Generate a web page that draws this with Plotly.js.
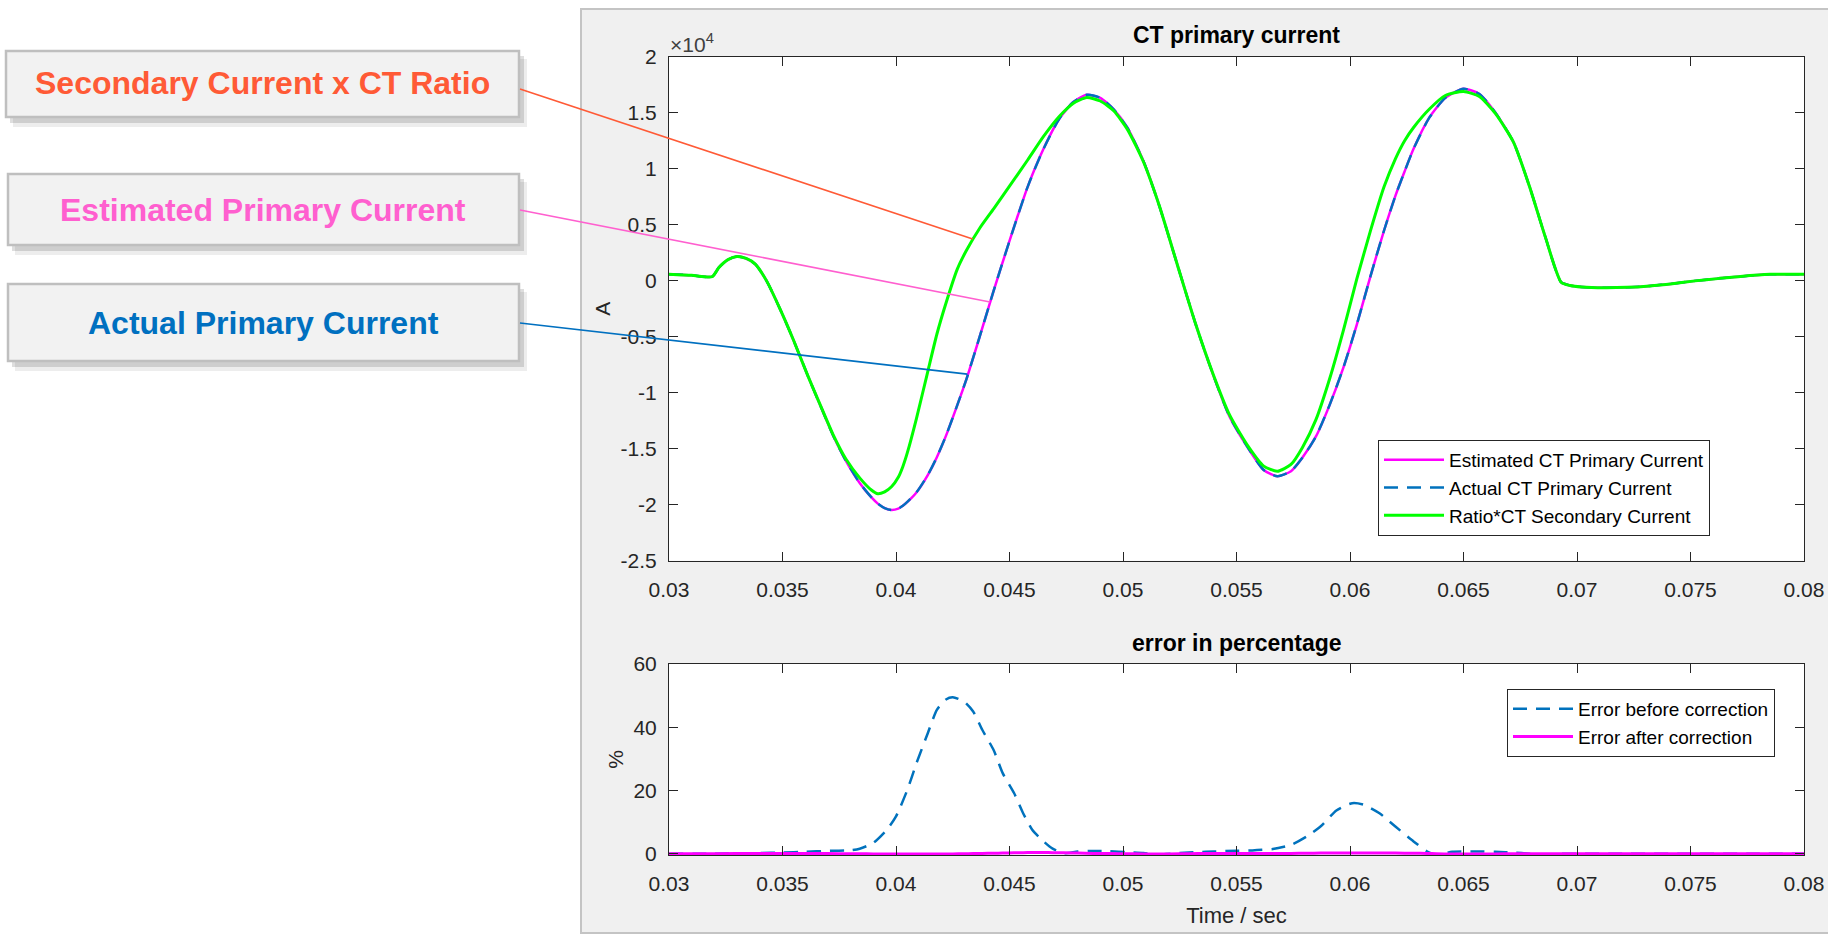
<!DOCTYPE html>
<html>
<head>
<meta charset="utf-8">
<script src="https://cdn.plot.ly/plotly-3.0.1.min.js"></script>
<style>
  html, body { margin: 0; padding: 0; background: #ffffff; }
  #chart { width: 1828px; height: 934px; }
</style>
</head>
<body>
<div id="chart"></div>
<script>
// ---------------- DATA ----------------
const tTop = [0.0300,0.0310,0.0319,0.0322,0.0326,0.0330,0.0334,0.0338,0.0343,0.0349,
              0.0355,0.0361,0.0367,0.03725,0.0378,0.0384,0.0389,0.0392,0.0395,0.0398,
              0.0401,0.0403,0.0405,0.0409,0.0414,0.0418,0.0422,0.0427,0.0431,0.0437,
              0.0443,0.0450,0.0458,0.0465,0.0472,0.0478,0.0484,0.0490,0.0496,0.0502,
              0.0509,0.0516,0.0524,0.0532,0.0540,0.0547,0.0555,0.0562,0.0568,0.0574,
              0.0579,0.0585,0.0591,0.0597,0.0603,0.0609,0.0615,0.0620,0.0624,0.0628,
              0.0635,0.0642,0.0650,0.0657,0.0664,0.0672,0.0679,0.0686,0.0693,0.0697,
              0.0702,0.0712,0.0722,0.0732,0.0742,0.0752,0.0762,0.0772,0.0785,0.0800];

// Ratio * CT secondary current (A)
const ratioSecondary = [600,500,370,1200,1900,2180,2000,1500,0,-2550,
                        -5370,-8400,-11260,-13830,-15940,-17600,-18660,-19020,-18850,-18400,
                        -17550,-16600,-15350,-12300,-8100,-4770,-2000,1050,2710,4750,
                        6440,8460,10800,12900,14700,15850,16380,16070,15170,13510,
                        10640,6710,1400,-3860,-8500,-12000,-14740,-16550,-17010,-16400,
                        -14900,-12400,-8770,-4490,170,4460,8400,10900,12500,13700,
                        15350,16560,16920,16470,14960,12400,8480,3950,-120,-420,
                        -550,-620,-580,-450,-250,0,200,400,580,580];

// Actual CT primary current (A)
const actualPrimary = [600,500,370,1200,1900,2180,2000,1500,0,-2550,
                       -5370,-8400,-11300,-13900,-16100,-18050,-19300,-19900,-20300,-20470,
                       -20350,-20100,-19750,-18900,-17350,-15750,-13850,-11100,-8800,-4900,
                       -900,3570,8400,11800,14500,15950,16620,16350,15300,13660,
                       10700,6700,1400,-3860,-8550,-12150,-14900,-16900,-17460,-17000,
                       -15800,-13900,-11100,-7800,-3900,400,4500,7600,9750,11800,
                       14600,16350,17160,16700,15050,12400,8480,3950,-120,-420,
                       -550,-620,-580,-450,-250,0,200,400,580,580];

// Estimated CT primary current (A)
const estimatedPrimary = [600,500,370,1200,1900,2180,2000,1500,0,-2550,
                          -5370,-8400,-11300,-13900,-16100,-18050,-19300,-19900,-20300,-20470,
                          -20350,-20100,-19750,-18900,-17350,-15750,-13850,-11100,-8800,-4900,
                          -900,3570,8400,11800,14500,15950,16620,16350,15300,13660,
                          10700,6700,1400,-3860,-8550,-12150,-14900,-16900,-17460,-17000,
                          -15800,-13900,-11100,-7800,-3900,400,4500,7600,9750,11800,
                          14600,16350,17160,16700,15050,12400,8480,3950,-120,-420,
                          -550,-620,-580,-450,-250,0,200,400,580,580];

const tErr = [0.0300,0.0320,0.0340,0.0350,0.0360,0.0370,0.0380,0.0384,0.0390,0.0396,
              0.0400,0.0405,0.0409,0.0414,0.0418,0.0422,0.0425,0.0430,0.0434,0.0438,
              0.0443,0.0447,0.0452,0.0456,0.0460,0.0465,0.0469,0.0474,0.0480,0.0487,
              0.0494,0.0502,0.0509,0.0515,0.0525,0.0533,0.0540,0.0550,0.0557,0.0566,
              0.0574,0.0581,0.0587,0.0594,0.0601,0.0606,0.0613,0.0620,0.0628,0.0634,
              0.0638,0.0645,0.0655,0.0664,0.0673,0.0679,0.0686,0.0692,0.0700,0.0720,
              0.0750,0.0780,0.0800];
const errBefore = [0.0,0.0,0.2,0.4,0.6,0.9,1.1,1.6,3.4,7.6,
                   11.8,20.2,28.6,38.1,45.5,48.8,49.5,48.1,45.0,39.2,
                   32.8,25.5,19.2,12.8,7.6,3.9,1.6,0.2,0.7,0.9,
                   0.8,0.5,0.2,-0.3,0.2,0.5,0.7,0.95,1.05,1.5,
                   2.8,5.5,8.6,13.7,16.0,15.5,12.8,8.6,3.9,0.7,
                   -0.3,0.6,0.7,0.6,0.3,0.0,-0.6,0.0,0.0,0.0,
                   0.0,0.0,0.0];
const errAfter = [0,0,0.1,0.1,0.1,0.05,0,0,-0.05,-0.05,
                  -0.05,-0.1,-0.1,-0.1,-0.1,-0.1,-0.05,0,0.05,0.1,
                  0.15,0.2,0.3,0.35,0.4,0.4,0.35,0.3,0.2,0.1,
                  0.05,0,-0.05,-0.1,0,0.05,0.1,0.1,0.1,0.1,
                  0.1,0.15,0.2,0.2,0.25,0.25,0.2,0.2,0.15,0.1,
                  0,-0.1,-0.1,-0.05,0,0,0,0,0,0,
                  0,0,0];

const xTickVals = [0.03,0.035,0.04,0.045,0.05,0.055,0.06,0.065,0.07,0.075,0.08];
const xTickText = ['0.03','0.035','0.04','0.045','0.05','0.055','0.06','0.065','0.07','0.075','0.08'];
const yTopTickVals = [-25000,-20000,-15000,-10000,-5000,0,5000,10000,15000,20000];
const yTopTickText = ['-2.5','-2','-1.5','-1','-0.5','0','0.5','1','1.5','2'];
const yErrTickVals = [0,20,40,60];
const yErrTickText = ['0','20','40','60'];

const seriesNames = ['Estimated CT Primary Current','Actual CT Primary Current','Ratio*CT Secondary Current'];
const errNames = ['Error before correction','Error after correction'];

// callouts: label text, colour, pointed data position
const calloutLabels = ['Secondary Current x CT Ratio','Estimated Primary Current','Actual Primary Current'];
const calloutColors = ['#FF5A36','#FF5FCF','#0070C0'];
const calloutTargetT = [0.04338, 0.04414, 0.04314];
const calloutTargetA = [3750, -1895, -8330];

// ---------------- LAYOUT HELPERS ----------------
const W = 1828, H = 934;
const ML = 669, MR = 24, MT = 57, MB = 79;
const PW = W - ML - MR, PH = H - MT - MB;
const px = X => (X - ML) / PW;          // pixel x -> paper x
const py = Y => (H - MB - Y) / PH;      // pixel y -> paper y
const X_RANGE = [0.03, 0.08];
const YTOP_RANGE = [-25000, 20000];
const TOP_BOTTOM_PX = 560.7;

const FONT = 'Liberation Sans, Arial, Helvetica, sans-serif';
const AX = '#262626';

function axisStyle(extra) {
  return Object.assign({
    showline: true, linecolor: AX, linewidth: 1, mirror: 'ticks',
    ticks: 'inside', ticklen: 9, tickwidth: 1, tickcolor: AX,
    showgrid: false, zeroline: false,
    tickfont: {family: FONT, size: 21, color: AX},
    fixedrange: true
  }, extra);
}

// ---------------- TRACES ----------------
const traces = [
  {x: tTop, y: estimatedPrimary, name: seriesNames[0], type: 'scatter', mode: 'lines',
   xaxis: 'x', yaxis: 'y', legend: 'legend',
   line: {color: '#FF00FF', width: 2.5, shape: 'spline', smoothing: 0.6}},
  {x: tTop, y: actualPrimary, name: seriesNames[1], type: 'scatter', mode: 'lines',
   xaxis: 'x', yaxis: 'y', legend: 'legend',
   line: {color: '#0072BD', width: 2.5, dash: '14px,9px', shape: 'spline', smoothing: 0.6}},
  {x: tTop, y: ratioSecondary, name: seriesNames[2], type: 'scatter', mode: 'lines',
   xaxis: 'x', yaxis: 'y', legend: 'legend',
   line: {color: '#00FF00', width: 3, shape: 'spline', smoothing: 0.6}},
  {x: tErr, y: errBefore, name: errNames[0], type: 'scatter', mode: 'lines',
   xaxis: 'x2', yaxis: 'y2', legend: 'legend2',
   line: {color: '#0072BD', width: 2.5, dash: '14px,9px', shape: 'spline', smoothing: 0.6}},
  {x: tErr, y: errAfter, name: errNames[1], type: 'scatter', mode: 'lines',
   xaxis: 'x2', yaxis: 'y2', legend: 'legend2',
   line: {color: '#FF00FF', width: 3, shape: 'spline', smoothing: 0.6}}
];

// ---------------- SHAPES ----------------
const shapes = [];
// white surroundings of the grey figure panel
shapes.push({type: 'rect', xref: 'paper', yref: 'paper', layer: 'below',
  x0: px(-20), x1: px(581), y0: py(H + 20), y1: py(-20), fillcolor: '#ffffff', line: {width: 0}});
shapes.push({type: 'rect', xref: 'paper', yref: 'paper', layer: 'below',
  x0: px(581), x1: px(W + 20), y0: py(9), y1: py(-20), fillcolor: '#ffffff', line: {width: 0}});
// panel border
shapes.push({type: 'rect', xref: 'paper', yref: 'paper', layer: 'below',
  x0: px(581), x1: px(W + 10), y0: py(933), y1: py(9), fillcolor: 'rgba(0,0,0,0)',
  line: {color: '#c4c4c4', width: 2}});

const boxes = [[6, 51, 519, 117], [8, 174, 519, 245], [8, 284, 519, 361]];
boxes.forEach(b => {
  shapes.push({type: 'rect', xref: 'paper', yref: 'paper', layer: 'below',
    x0: px(b[0] + 7), x1: px(b[2] + 8), y0: py(b[3] + 10), y1: py(b[1] + 8),
    fillcolor: 'rgba(0,0,0,0.07)', line: {width: 0}});
  shapes.push({type: 'rect', xref: 'paper', yref: 'paper', layer: 'below',
    x0: px(b[0] + 4), x1: px(b[2] + 5), y0: py(b[3] + 6), y1: py(b[1] + 5),
    fillcolor: 'rgba(0,0,0,0.13)', line: {width: 0}});
  shapes.push({type: 'rect', xref: 'paper', yref: 'paper', layer: 'below',
    x0: px(b[0]), x1: px(b[2]), y0: py(b[3]), y1: py(b[1]),
    fillcolor: '#f2f2f2', line: {color: '#bfbfbf', width: 2.5}});
});

// callout leader lines: from the box edge to the pointed data position (mapped through the axis ranges)
const tails = [[520, 89], [520, 210], [520, 323]];
const xPix = t => ML + (t - X_RANGE[0]) / (X_RANGE[1] - X_RANGE[0]) * PW;
const yPix = a => MT + (YTOP_RANGE[1] - a) / (YTOP_RANGE[1] - YTOP_RANGE[0]) * (TOP_BOTTOM_PX - MT);
calloutLabels.forEach((lab, i) => {
  const hx = xPix(calloutTargetT[i]), hy = yPix(calloutTargetA[i]);
  shapes.push({type: 'line', xref: 'paper', yref: 'paper', layer: 'above',
    x0: px(tails[i][0]), y0: py(tails[i][1]), x1: px(hx), y1: py(hy),
    line: {color: calloutColors[i], width: 1.6}});
});

// ---------------- ANNOTATIONS ----------------
const annotations = [];
annotations.push({xref: 'paper', yref: 'paper', x: 0.5, y: py(643), xanchor: 'center', yanchor: 'middle',
  text: '<b>error in percentage</b>', showarrow: false, font: {family: FONT, size: 23, color: '#000'}});
annotations.push({xref: 'paper', yref: 'paper', x: px(668), y: py(43), xanchor: 'left', yanchor: 'middle',
  text: '×10<sup>4</sup>', showarrow: false, font: {family: FONT, size: 21, color: '#404040'}});

const textCenters = [[262, 83], [263, 210], [263, 323]];
calloutLabels.forEach((lab, i) => {
  annotations.push({xref: 'paper', yref: 'paper', x: px(textCenters[i][0]), y: py(textCenters[i][1]),
    xanchor: 'center', yanchor: 'middle', showarrow: false,
    text: '<b>' + lab + '</b>', font: {family: FONT, size: 32, color: calloutColors[i]}});
});

const layout = {
  width: W, height: H,
  margin: {l: ML, r: MR, t: MT, b: MB, pad: 0},
  paper_bgcolor: '#f0f0f0', plot_bgcolor: '#ffffff',
  font: {family: FONT, color: AX},
  title: {text: '<b>CT primary current</b>', x: 0.5, xref: 'paper', xanchor: 'center',
          y: 1 - 35 / H, yref: 'container', yanchor: 'middle',
          font: {family: FONT, size: 23, color: '#000'}},
  xaxis: axisStyle({anchor: 'y', domain: [0, 1], range: X_RANGE,
    tickvals: xTickVals, ticktext: xTickText, ticklabelstandoff: 10}),
  yaxis: axisStyle({anchor: 'x', domain: [py(TOP_BOTTOM_PX), 1], range: YTOP_RANGE,
    tickvals: yTopTickVals, ticktext: yTopTickText, ticklabelstandoff: 7,
    title: {text: 'A', font: {family: FONT, size: 21, color: AX}, standoff: 4}}),
  xaxis2: axisStyle({anchor: 'y2', domain: [0, 1], range: X_RANGE,
    tickvals: xTickVals, ticktext: xTickText, ticklabelstandoff: 10,
    title: {text: 'Time / sec', font: {family: FONT, size: 22, color: AX}, standoff: 13}}),
  yaxis2: axisStyle({anchor: 'x2', domain: [0, py(664)], range: [-0.4, 60],
    tickvals: yErrTickVals, ticktext: yErrTickText, ticklabelstandoff: 7,
    title: {text: '%', font: {family: FONT, size: 21, color: AX}, standoff: 4}}),
  legend: {x: px(1378), y: py(440), xanchor: 'left', yanchor: 'top', xref: 'paper', yref: 'paper',
    bgcolor: '#ffffff', bordercolor: AX, borderwidth: 1, itemwidth: 60,
    font: {family: FONT, size: 19, color: '#000'}, tracegroupgap: 0},
  legend2: {x: px(1507), y: py(689), xanchor: 'left', yanchor: 'top', xref: 'paper', yref: 'paper',
    bgcolor: '#ffffff', bordercolor: AX, borderwidth: 1, itemwidth: 60,
    font: {family: FONT, size: 19, color: '#000'}, tracegroupgap: 0},
  shapes: shapes,
  annotations: annotations,
  showlegend: true
};

Plotly.newPlot('chart', traces, layout, {displayModeBar: false, staticPlot: true});
</script>
</body>
</html>
